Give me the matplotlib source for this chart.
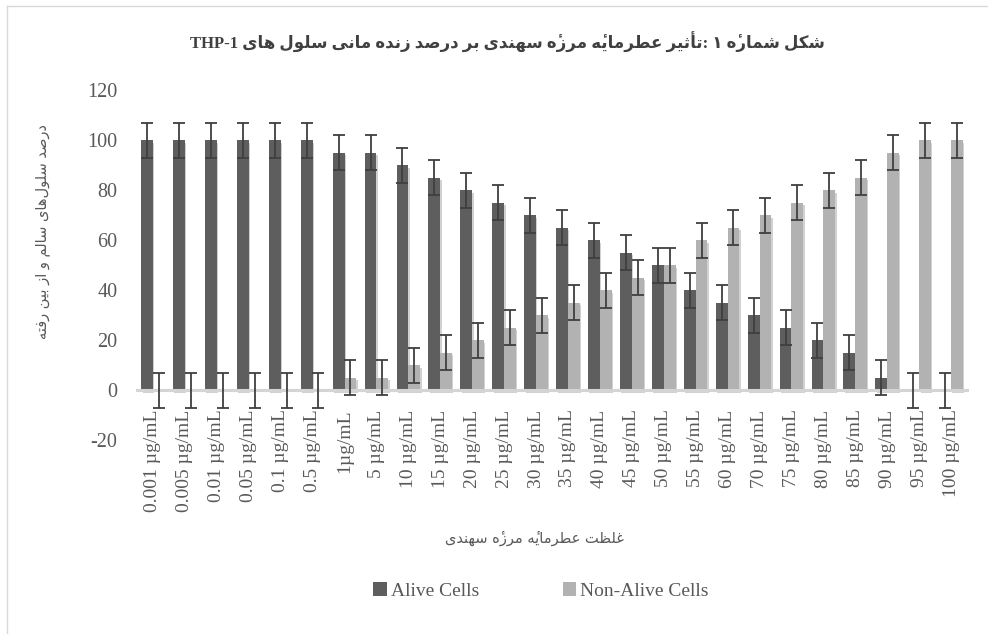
import numpy as np
import matplotlib
matplotlib.use("Agg")
import matplotlib.pyplot as plt
from matplotlib.lines import Line2D
from matplotlib.patches import Patch
import matplotlib.patheffects as pe

# داده‌ها
doses = ["0.001 µg/mL", "0.005 µg/mL", "0.01 µg/mL", "0.05 µg/mL", "0.1 µg/mL",
         "0.5 µg/mL", "1µg/mL", "5 µg/mL", "10 µg/mL", "15 µg/mL", "20 µg/mL",
         "25 µg/mL", "30 µg/mL", "35 µg/mL", "40 µg/mL", "45 µg/mL", "50 µg/mL",
         "55 µg/mL", "60 µg/mL", "70 µg/mL", "75 µg/mL", "80 µg/mL", "85 µg/mL",
         "90 µg/mL", "95 µg/mL", "100 µg/mL"]
alive = [100, 100, 100, 100, 100, 100, 95, 95, 90, 85, 80, 75, 70, 65, 60, 55,
         50, 40, 35, 30, 25, 20, 15, 5, 0, 0]
non_alive = [0, 0, 0, 0, 0, 0, 5, 5, 10, 15, 20, 25, 30, 35, 40, 45, 50, 60, 65,
             70, 75, 80, 85, 95, 100, 100]
err = 7

title_fa = "شکل شمارۀ ۱ :تأثیر عطرمایۀ مرزۀ سهندی بر درصد زنده مانی سلول های"
title_en = "THP-1"
ylabel_fa = "درصد سلول\u200cهای سالم و از بین رفته"
xlabel_fa = "غلظت عطرمایۀ مرزۀ سهندی"
legend_names = ["Alive Cells", "Non-Alive Cells"]

# matplotlib حروف فارسی را به هم نمی‌چسباند، پس شکل‌های نمایشی را دستی می‌سازیم
DUAL = {'ب': 0xFE8F, 'ت': 0xFE95, 'ث': 0xFE99, 'س': 0xFEB1, 'ش': 0xFEB5,
        'ص': 0xFEB9, 'ط': 0xFEC1, 'ظ': 0xFEC5, 'ع': 0xFEC9, 'غ': 0xFECD,
        'ف': 0xFED1, 'ل': 0xFEDD, 'م': 0xFEE1, 'ن': 0xFEE5, 'ه': 0xFEE9,
        'ی': 0xFBFC, 'ک': 0xFB8E}
RIGHT = {'ا': 0xFE8D, 'أ': 0xFE83, 'د': 0xFEA9, 'ر': 0xFEAD, 'ز': 0xFEAF,
         'و': 0xFEED, 'ۀ': 0xFEE9}
MARK = {'ۀ': '\u0654'}   # ه + همزه بالا


def fa(text):
    clusters = []
    for i, c in enumerate(text):
        if c not in DUAL and c not in RIGHT:
            if c != '\u200c':
                clusters.append(c)
            continue
        prev = text[i - 1] if i > 0 else ''
        nxt = text[i + 1] if i + 1 < len(text) else ''
        jp = prev in DUAL
        jn = c in DUAL and (nxt in DUAL or nxt in RIGHT)
        if c in RIGHT:
            g = chr(RIGHT[c] + (1 if jp else 0))
        else:
            k = (3 if jn else 1) if jp else (2 if jn else 0)
            g = chr(DUAL[c] + k)
        clusters.append(g + MARK.get(c, ''))
    return ''.join(clusters[::-1])


plt.rcParams['font.family'] = ['Liberation Serif', 'DejaVu Sans']
plt.rcParams['axes.unicode_minus'] = False

fig = plt.figure(figsize=(9.88, 6.34), dpi=100)
ax = fig.add_axes([137 / 988, 1 - 440 / 634, 830 / 988, 350 / 634])

x = np.arange(len(doses))
w = 0.37
dark = '#5e5e5e'
light = '#b2b2b2'
shadow = [pe.SimplePatchShadow(offset=(1, -2), shadow_rgbFace='#000000', alpha=0.18), pe.Normal()]

b1 = ax.bar(x - w / 2, alive, w, color=dark, zorder=2)
b2 = ax.bar(x + w / 2, non_alive, w, color=light, zorder=2)
for b in list(b1) + list(b2):
    b.set_path_effects(shadow)

ax.errorbar(x - w / 2, alive, yerr=err, fmt='none', ecolor='#3f3f3f',
            elinewidth=1.3, capsize=4, capthick=1.3, zorder=4)
ax.errorbar(x + w / 2, non_alive, yerr=err, fmt='none', ecolor='#3f3f3f',
            elinewidth=1.3, capsize=4, capthick=1.3, zorder=4)

ax.set_xlim(-0.5, len(doses) - 0.5)
ax.set_ylim(-20, 120)
ax.set_yticks(range(-20, 121, 20))

for s in ['top', 'right', 'left']:
    ax.spines[s].set_visible(False)
ax.spines['bottom'].set_position(('data', 0))
ax.spines['bottom'].set_color('#d4d4d4')
ax.spines['bottom'].set_linewidth(2.2)
ax.spines['bottom'].set_zorder(3)

ax.set_xticks(x)
ax.set_xticklabels(doses, rotation=90)
ax.tick_params(axis='x', length=0, pad=14, labelsize=14, labelcolor='#595959')
ax.tick_params(axis='y', length=0, pad=14, labelsize=14.5, labelcolor='#595959')

fig.text(0.5135, 1 - 42 / 634, title_en + " " + fa(title_fa), ha='center', va='center',
         fontsize=12, fontweight='bold', color='#404040')
fig.text(42 / 988, 1 - 232 / 634, fa(ylabel_fa), rotation=90, ha='center', va='center',
         fontsize=10.5, color='#595959', family='DejaVu Sans')
fig.text(534 / 988, 1 - 538 / 634, fa(xlabel_fa), ha='center', va='center',
         fontsize=10.5, color='#595959', family='DejaVu Sans')

handles = [Patch(facecolor=dark), Patch(facecolor=light)]
fig.legend(handles, legend_names, loc='center', bbox_to_anchor=(541 / 988, 1 - 591 / 634),
           ncol=2, frameon=False, fontsize=14, handlelength=0.7, handleheight=0.7,
           handletextpad=0.2, columnspacing=4.3, labelcolor='#595959')

# قاب بیرونی نمودار
fig.add_artist(Line2D([7 / 988, 7 / 988], [0, 1 - 6 / 634], transform=fig.transFigure,
                      color='#d9d9d9', lw=1))
fig.add_artist(Line2D([7 / 988, 1], [1 - 6 / 634, 1 - 6 / 634], transform=fig.transFigure,
                      color='#d9d9d9', lw=1))

fig.savefig('out.png', dpi=100, facecolor='white')
